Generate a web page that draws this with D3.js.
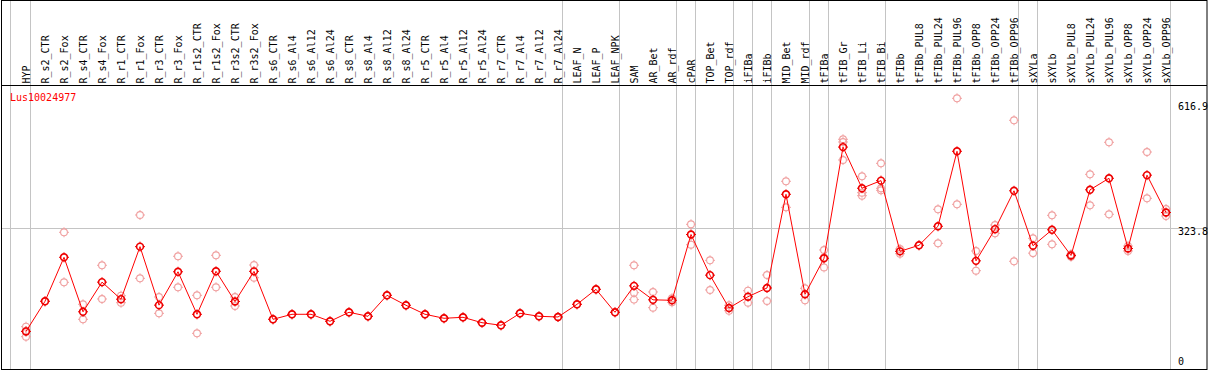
<!DOCTYPE html>
<html>
<head>
<meta charset="utf-8">
<script src="https://cdn.jsdelivr.net/npm/d3@7"></script>
<style>
  body { margin: 0; background: #fff; }
  svg { display: block; }
  text { font-family: "DejaVu Sans Mono", monospace; font-size: 10px; }
</style>
</head>
<body>
<svg id="chart" width="1209" height="370"></svg>
<script>

var geneName = 'Lus10024977';

var samples = ['HYP', 'R_s2_CTR', 'R_s2_Fox', 'R_s4_CTR', 'R_s4_Fox', 'R_r1_CTR', 'R_r1_Fox',
  'R_r3_CTR', 'R_r3_Fox', 'R_r1s2_CTR', 'R_r1s2_Fox', 'R_r3s2_CTR', 'R_r3s2_Fox',
  'R_s6_CTR', 'R_s6_Al4', 'R_s6_Al12', 'R_s6_Al24', 'R_s8_CTR', 'R_s8_Al4', 'R_s8_Al12', 'R_s8_Al24',
  'R_r5_CTR', 'R_r5_Al4', 'R_r5_Al12', 'R_r5_Al24', 'R_r7_CTR', 'R_r7_Al4', 'R_r7_Al12', 'R_r7_Al24',
  'LEAF_N', 'LEAF_P', 'LEAF_NPK', 'SAM', 'AR_Bet', 'AR_rdf', 'cPAR', 'TOP_Bet', 'TOP_rdf',
  'iFIBa', 'iFIBb', 'MID_Bet', 'MID_rdf', 'tFIBa', 'tFIB_Gr', 'tFIB_Li', 'tFIB_Bi', 'tFIBb',
  'tFIBb_PUL8', 'tFIBb_PUL24', 'tFIBb_PUL96', 'tFIBb_OPP8', 'tFIBb_OPP24', 'tFIBb_OPP96',
  'sXYLa', 'sXYLb', 'sXYLb_PUL8', 'sXYLb_PUL24', 'sXYLb_PUL96', 'sXYLb_OPP8', 'sXYLb_OPP24', 'sXYLb_OPP96'];

// replicate values per sample (mean = average of these)
var replicates = [
  [101.9, 92.2, 79.4], [159.2], [314.8, 202.0], [152.4, 118.6], [240.4, 164.4], [171.8, 156.0],
  [353.8, 211.0], [168.9, 132.1], [260.7, 190.8], [172.7, 87.0], [262.9, 190.8], [168.9, 148.6],
  [241.0, 212.4],
  [118.6], [129.9], [129.9], [114.1], [134.4], [125.4], [172.7], [150.2],
  [129.9], [120.9], [123.1], [110.9], [105.1], [132.1], [125.4], [123.8],
  [152.4], [186.2], [134.4], [240.4, 178.6, 163.0], [180.2, 144.8], [166.0, 156.9],
  [332.8, 286.8], [251.6, 184.7], [150.2, 138.0], [183.1, 156.0], [218.5, 159.9],
  [429.8, 371.1], [188.5, 161.4], [274.9, 258.0, 235.6], [524.5, 518.4, 477.8],
  [441.0, 404.1, 397.3], [470.3, 414.0, 409.5], [277.1, 266.5],
  [285.5], [366.6, 290.0], [616.9, 377.9], [272.6, 228.2], [331.2, 312.5], [567.3, 249.4],
  [301.2, 267.8], [353.1, 287.7], [265.2, 259.8], [445.5, 375.6], [517.7, 355.4],
  [283.9, 272.6], [495.8, 391.4], [367.3, 351.5]
];

// last sample of each block, a grey rule follows it
var groupEnds = ['HYP', 'R_r7_Al24', 'LEAF_NPK', 'AR_rdf', 'cPAR', 'TOP_rdf', 'iFIBa', 'iFIBb',
  'MID_rdf', 'tFIBa', 'tFIB_Bi', 'tFIBb_OPP96', 'sXYLa', 'sXYLb_OPP96'];

var tickValues = [616.9, 323.8, 0];
var tickLabels = ['616.9', '323.8', '0'];
var gridValues = [323.8];


var W = 1209, H = 370;
var headerBottom = 85.5, plotBottom = 369.5;
var svg = d3.select('#chart');

var x = d3.scalePoint().domain(samples).range([26, 1166]);
var y = d3.scaleLinear().domain([0, 616.9]).range([371.9, 98.3]);

var data = samples.map(function(s, i) {
  return { name: s, reps: replicates[i], mean: d3.mean(replicates[i]) };
});

// grid lines
svg.selectAll('.vsep')
  .data(['__left'].concat(groupEnds))
  .enter().append('line')
  .attr('x1', function(d) { return d == '__left' ? x(samples[0]) - 15.5 : x(d) + 4.5; })
  .attr('x2', function(d) { return d == '__left' ? x(samples[0]) - 15.5 : x(d) + 4.5; })
  .attr('y1', 0).attr('y2', plotBottom)
  .attr('stroke', '#c4c4c4').attr('stroke-width', 1);

svg.selectAll('.hgrid')
  .data(gridValues)
  .enter().append('line')
  .attr('x1', 1).attr('x2', W - 1.5)
  .attr('y1', function(d) { return Math.round(y(d)) + 0.5; })
  .attr('y2', function(d) { return Math.round(y(d)) + 0.5; })
  .attr('stroke', '#c4c4c4').attr('stroke-width', 1);

// frame
svg.append('rect')
  .attr('x', 1.5).attr('y', 0.5).attr('width', W - 3.5).attr('height', plotBottom - 0.5)
  .attr('fill', 'none').attr('stroke', '#000').attr('stroke-width', 1);
svg.append('line')
  .attr('x1', 1.5).attr('x2', W - 2).attr('y1', headerBottom).attr('y2', headerBottom)
  .attr('stroke', '#000');

// header labels
svg.selectAll('.lbl')
  .data(samples)
  .enter().append('text')
  .attr('transform', function(d) { return 'translate(' + (x(d) + 3.5) + ',' + (headerBottom - 2) + ') rotate(-90)'; })
  .attr('fill', '#000')
  .text(function(d) { return d; });

svg.append('text')
  .attr('x', 10).attr('y', 101)
  .attr('fill', 'red')
  .text(geneName);

// value labels on the right
svg.selectAll('.tick')
  .data(tickValues)
  .enter().append('text')
  .attr('x', 1178)
  .attr('y', function(d) { return Math.min(Math.max(y(d), 103), 358) + 7.2; })
  .attr('fill', '#000')
  .text(function(d, i) { return tickLabels[i]; });

function marker(g, cx, cy, color, sw) {
  g.append('circle').attr('cx', cx).attr('cy', cy).attr('r', 3.4)
    .attr('fill', 'none').attr('stroke', color).attr('stroke-width', sw);
  g.append('path')
    .attr('d', 'M' + cx + ',' + (cy - 5) + 'v1.6M' + cx + ',' + (cy + 3.4) + 'v1.6' +
               'M' + (cx - 5) + ',' + cy + 'h1.6M' + (cx + 3.4) + ',' + cy + 'h1.6')
    .attr('stroke', color).attr('stroke-width', 1);
}

// replicates
var repG = svg.append('g');
data.forEach(function(d) {
  d.reps.forEach(function(v) {
    marker(repG, x(d.name), y(v), '#f0a0a0', 1.1);
  });
});

// mean line
var line = d3.line()
  .x(function(d) { return x(d.name); })
  .y(function(d) { return y(d.mean); });

svg.append('path')
  .datum(data)
  .attr('d', line)
  .attr('fill', 'none')
  .attr('stroke', 'red')
  .attr('stroke-width', 1);

var meanG = svg.append('g');
data.forEach(function(d) {
  marker(meanG, x(d.name), y(d.mean), '#ee0000', 1.6);
});

</script>
</body>
</html>
